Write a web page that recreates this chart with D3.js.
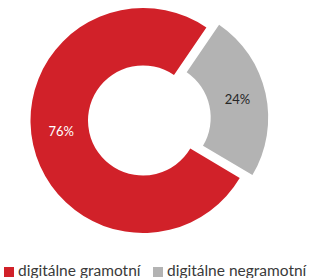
<!DOCTYPE html>
<html>
<head>
<meta charset="utf-8">
<script src="https://cdn.jsdelivr.net/npm/d3@7"></script>
<style>
  body { margin: 0; background: #fff; }
  svg { display: block; font-family: Lato, "Open Sans", sans-serif; }
</style>
</head>
<body>
<svg id="chart"></svg>
<script>
let categories = ["digitálne gramotní", "digitálne negramotní"];
let values = [76, 24];
let labels = ["76%", "24%"];
let colors = ["#d12129", "#b3b3b3"];
let labelColors = ["#ffffff", "#262626"];

let width = 309;
let height = 278;
let cx = 143;
let cy = 120.5;
let outerR = 112.5;
let innerR = 55;
let explode = 13;

let svg = d3.select("#chart").attr("width", width).attr("height", height);

let start = 120.7 * Math.PI / 180;
let pie = d3.pie().sort(null).startAngle(start).endAngle(start + 2 * Math.PI);
let arcs = pie(values);

let arc = d3.arc().innerRadius(innerR).outerRadius(outerR);

let g = svg.append("g").attr("transform", "translate(" + cx + "," + cy + ")");

let slices = g.selectAll("g.slice")
  .data(arcs)
  .enter()
  .append("g")
  .attr("class", "slice")
  .attr("transform", (d, i) => {
    if (i === 0) return null;
    let mid = (d.startAngle + d.endAngle) / 2;
    return "translate(" + (Math.sin(mid) * explode) + "," + (-Math.cos(mid) * explode) + ")";
  });

slices.append("path")
  .attr("d", arc)
  .attr("fill", (d, i) => colors[i]);

slices.append("text")
  .attr("transform", (d) => "translate(" + arc.centroid(d) + ")")
  .attr("text-anchor", "middle")
  .attr("dy", (d, i) => i === 0 ? "-0.2em" : "0.35em")
  .attr("font-size", 13)
  .attr("fill", (d, i) => labelColors[i])
  .text((d, i) => labels[i]);

// legend
let legendX = [4, 153];
let legend = svg.selectAll("g.legend")
  .data(categories)
  .enter()
  .append("g")
  .attr("class", "legend")
  .attr("transform", (d, i) => "translate(" + legendX[i] + ",276)");

legend.append("rect")
  .attr("x", 0)
  .attr("y", -9)
  .attr("width", 10)
  .attr("height", 10)
  .attr("fill", (d, i) => colors[i]);

legend.append("text")
  .attr("x", 14)
  .attr("y", 0)
  .attr("font-size", 15.5)
  .attr("fill", "#3a3a3a")
  .text((d) => d);
</script>
</body>
</html>
